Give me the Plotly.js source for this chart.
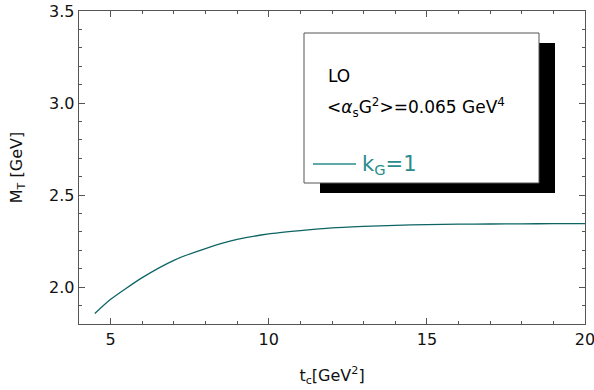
<!DOCTYPE html>
<html><head><meta charset="utf-8">
<script src="https://cdn.plot.ly/plotly-3.0.1.min.js"></script>
<style>html,body{margin:0;padding:0;background:#fff}#plot{width:594px;height:390px}</style>
</head><body><div id="plot"></div>
<script>
const tc = [4.5, 5, 6, 7, 8, 9, 10, 11, 12, 13, 14, 15, 16, 17, 18, 19, 20];
const MT = [1.857, 1.934, 2.052, 2.146, 2.21, 2.259, 2.289, 2.307, 2.322, 2.330, 2.336, 2.340, 2.342, 2.343, 2.344, 2.345, 2.345];
const xTicks = [5, 10, 15, 20];
const xTickText = ['5', '10', '15', '20'];
const yTicks = [2.0, 2.5, 3.0, 3.5];
const yTickText = ['2.0', '2.5', '3.0', '3.5'];
const seriesName = 'k<sub>G</sub>=1';
const noteLines = ['LO', '&lt;<i>α</i><sub>s</sub>G<sup>2</sup>&gt;=0.065 GeV<sup>4</sup>'];

const L = 79, R = 585, T = 11, B = 324;
const px = x => (x - L) / (R - L);
const py = y => (B - y) / (B - T);
const font = 'DejaVu Sans, Verdana, sans-serif';
const teal = '#0e6464';
const tealText = '#2a8c8c';

const axisCommon = {
  showgrid: false, zeroline: false, showline: true, linecolor: '#555', linewidth: 1.3,
  mirror: 'ticks', ticks: 'inside', ticklen: 6, tickcolor: '#555', tickwidth: 1,
  ticklabeloverflow: 'allow',
  tickfont: {family: font, size: 16, color: '#111'}
};

const layout = {
  width: 594, height: 390,
  margin: {l: L, r: 594 - R, t: T, b: 390 - B},
  paper_bgcolor: '#fff', plot_bgcolor: '#fff',
  showlegend: false,
  xaxis: Object.assign({}, axisCommon, {
    range: [4, 20], tickvals: xTicks, ticktext: xTickText,
    minor: {ticks: 'inside', dtick: 1, tick0: 0, ticklen: 3, tickcolor: '#555'},
    title: {text: 't<sub>c</sub>[GeV<sup>2</sup>]', font: {family: font, size: 16, color: '#111'}, standoff: 22}
  }),
  yaxis: Object.assign({}, axisCommon, {
    range: [1.8, 3.5], tickvals: yTicks, ticktext: yTickText,
    minor: {ticks: 'inside', dtick: 0.1, tick0: 0, ticklen: 3, tickcolor: '#555'},
    title: {text: 'M<sub>T</sub> [GeV]', font: {family: font, size: 16, color: '#111'}, standoff: 22}
  }),
  shapes: [
    {type: 'rect', xref: 'paper', yref: 'paper', x0: px(320), x1: px(555), y0: py(193), y1: py(43),
     fillcolor: '#000', line: {width: 0}, layer: 'above'},
    {type: 'rect', xref: 'paper', yref: 'paper', x0: px(304), x1: px(539), y0: py(183), y1: py(33),
     fillcolor: '#fff', line: {color: '#555', width: 1}, layer: 'above'},
    {type: 'line', xref: 'paper', yref: 'paper', x0: px(313), x1: px(356), y0: py(164), y1: py(164),
     line: {color: tealText, width: 1.3}, layer: 'above'}
  ],
  annotations: [
    {xref: 'paper', yref: 'paper', x: px(326), y: py(76), xanchor: 'left', yanchor: 'middle',
     text: noteLines[0], showarrow: false, font: {family: font, size: 17, color: '#000'}},
    {xref: 'paper', yref: 'paper', x: px(325), y: py(107), xanchor: 'left', yanchor: 'middle',
     text: noteLines[1], showarrow: false, font: {family: font, size: 17, color: '#000'}},
    {xref: 'paper', yref: 'paper', x: px(360), y: py(165), xanchor: 'left', yanchor: 'middle',
     text: seriesName, showarrow: false, font: {family: font, size: 21, color: tealText}}
  ]
};

Plotly.newPlot('plot', [{
  x: tc, y: MT, type: 'scatter', mode: 'lines', name: seriesName,
  line: {color: teal, width: 1.3, shape: 'spline', smoothing: 0.6}
}], layout, {staticPlot: true, displayModeBar: false});
</script></body></html>
